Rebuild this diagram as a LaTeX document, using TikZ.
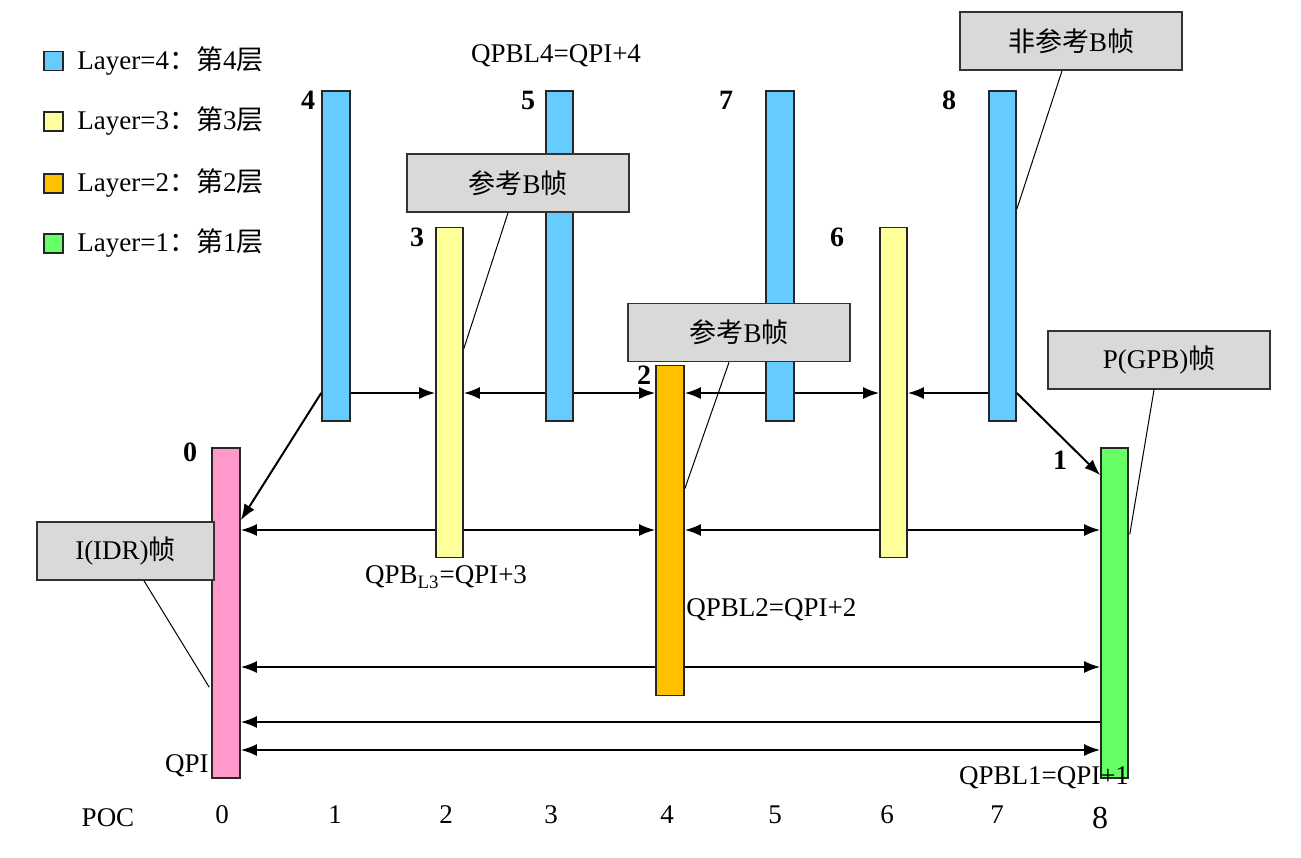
\documentclass[tikz,border=0pt]{standalone}
\usepackage{fontspec}
\setmainfont{Liberation Serif}
\newfontfamily\cjk{Noto Sans CJK SC}
\usetikzlibrary{arrows.meta,calc}
\definecolor{cblue}{HTML}{66CCFF}
\definecolor{cyellow}{HTML}{FFFF99}
\definecolor{corange}{HTML}{FFC000}
\definecolor{cgreen}{HTML}{66FF66}
\definecolor{cpink}{HTML}{FF99CC}
\definecolor{cgray}{HTML}{D9D9D9}
\begin{document}
\begin{tikzpicture}[x=0.5pt,y=-0.5pt,
  every node/.style={font=\fontsize{13.5}{16}\selectfont, inner sep=0pt},
  bar/.style={draw=black!85, line width=0.8pt, minimum width=14pt, minimum height=165pt, inner sep=0pt},
  arr/.style={line width=1pt, -{Latex[length=8pt,width=6pt]}},
  darr/.style={line width=1pt, {Latex[length=8pt,width=6pt]}-{Latex[length=8pt,width=6pt]}},
  callout/.style={draw=black!80, fill=cgray, line width=0.8pt, minimum width=111pt, minimum height=29pt},
  lead/.style={line width=0.5pt},
  num/.style={font=\fontsize{14}{16}\selectfont\bfseries},
  legbox/.style={draw=black!85, line width=0.8pt, minimum size=9.5pt, inner sep=0pt},
  legtext/.style={anchor=west},
]
\useasboundingbox (0,0) rectangle (1301,857);

% legend
\node[legbox, fill=cblue]   (l4) at (53.5,61) {};
\node[legtext] (t4) at (77,61) {Layer=4{\cjk ：第}4{\cjk 层}};
\node[legbox, fill=cyellow] (l3) at (53.5,121.5) {};
\node[legtext] (t3) at (77,121.5) {Layer=3{\cjk ：第}3{\cjk 层}};
\node[legbox, fill=corange] (l2) at (53.5,183.5) {};
\node[legtext] (t2) at (77,183.5) {Layer=2{\cjk ：第}2{\cjk 层}};
\node[legbox, fill=cgreen]  (l1) at (53.5,243.5) {};
\node[legtext] (t1) at (77,243.5) {Layer=1{\cjk ：第}1{\cjk 层}};

% bars
\node[bar, fill=cpink]   (p0) at (226,613) {};
\node[bar, fill=cblue]   (p1) at (336,256) {};
\node[bar, fill=cyellow, minimum width=13.5pt] (p2) at (449.5,392.5) {};
\node[bar, fill=cblue, minimum width=13.5pt]   (p3) at (559.5,256) {};
\node[bar, fill=corange] (p4) at (670,530.5) {};
\node[bar, fill=cblue]   (p5) at (780,256) {};
\node[bar, fill=cyellow, minimum width=13.5pt] (p6) at (893.5,392.5) {};
\node[bar, fill=cblue, minimum width=13.5pt]   (p7) at (1002.5,256) {};
\node[bar, fill=cgreen, minimum width=13.5pt]  (p8) at (1114.5,613) {};

% row coordinates
\coordinate (r1) at (0,393);
\coordinate (r2) at (0,530);
\coordinate (r3) at (0,667);
\coordinate (r4) at (0,722);
\coordinate (r5) at (0,750);

% arrows
\draw[arr] (p1.east|-r1) -- (p2.west|-r1);
\draw[arr] (p3.west|-r1) -- (p2.east|-r1);
\draw[arr] (p3.east|-r1) -- (p4.west|-r1);
\draw[arr] (p5.west|-r1) -- (p4.east|-r1);
\draw[arr] (p5.east|-r1) -- (p6.west|-r1);
\draw[arr] (p7.west|-r1) -- (p6.east|-r1);
\draw[arr] (p7.east|-r1) -- ($(p8.north west)+(0,28)$);
\draw[arr] (p1.west|-r1) -- ($(p0.north east)+(0,73)$);

\draw[arr] (p2.west|-r2) -- (p0.east|-r2);
\draw[arr] (p2.east|-r2) -- (p4.west|-r2);
\draw[arr] (p6.west|-r2) -- (p4.east|-r2);
\draw[arr] (p6.east|-r2) -- (p8.west|-r2);

\draw[arr] (p4.west|-r3) -- (p0.east|-r3);
\draw[arr] (p4.east|-r3) -- (p8.west|-r3);

\draw[arr] (p8.west|-r4) -- (p0.east|-r4);
\draw[darr] (p0.east|-r5) -- (p8.west|-r5);

% bar numbers
\node[num] (n4) at ($(p1.north west)+(-13,10)$) {4};
\node[num] (n5) at ($(p3.north west)+(-17,10)$) {5};
\node[num] (n7) at ($(p5.north west)+(-39,10)$) {7};
\node[num] (n8) at ($(p7.north west)+(-39,10)$) {8};
\node[num] (n3) at ($(p2.north west)+(-18,11)$) {3};
\node[num] (n6) at ($(p6.north west)+(-42,11)$) {6};
\node[num] (n2) at ($(p4.north west)+(-11,11)$) {2};
\node[num] (n0) at ($(p0.north west)+(-21,5)$) {0};
\node[num] (n1) at ($(p8.north west)+(-40,13)$) {1};

% callouts
\node[callout] (c1) at (1071,41) {{\cjk 非参考}B{\cjk 帧}};
\node[callout] (c2) at (518,183) {{\cjk 参考}B{\cjk 帧}};
\node[callout] (c3) at (739,332.5) {{\cjk 参考}B{\cjk 帧}};
\node[callout] (c4) at (1159,360) {P(GPB){\cjk 帧}};
\node[callout, minimum width=88.5pt] (c5) at (125.5,551) {I(IDR){\cjk 帧}};

\draw[lead] ($(c1.south)+(-9,0)$) -- ($(p7.north east)+(0,119)$);
\draw[lead] ($(c2.south)+(-10,0)$) -- ($(p2.north east)+(0,122)$);
\draw[lead] ($(c3.south)+(-10,0)$) -- ($(p4.north east)+(0,124)$);
\draw[lead] ($(c4.south)+(-5,0)$) -- ($(p8.north east)+(1,87)$);
\draw[lead] ($(c5.south)+(18.5,0)$) -- ($(p0.north west)+(-2,240)$);

% QP texts
\node (q4) at (556,56) {QPBL4=QPI+4};
\node (q3) at (446,577) {QPB\textsubscript{L3}=QPI+3};
\node[anchor=west] (q2) at (686,610) {QPBL2=QPI+2};
\node (q1) at (1044,778) {QPBL1=QPI+1};
\node[anchor=east] (qi) at (209,766) {QPI};

% POC axis
\node (poc) at (108,818) {POC};
\node (x0) at (222,815) {0};
\node (x1) at (335,815) {1};
\node (x2) at (446,815) {2};
\node (x3) at (551,815) {3};
\node (x4) at (667,815) {4};
\node (x5) at (775,815) {5};
\node (x6) at (887,815) {6};
\node (x7) at (997,815) {7};
\node[font=\fontsize{16}{18}\selectfont] (x8) at (1100,818) {8};
\end{tikzpicture}
\end{document}
